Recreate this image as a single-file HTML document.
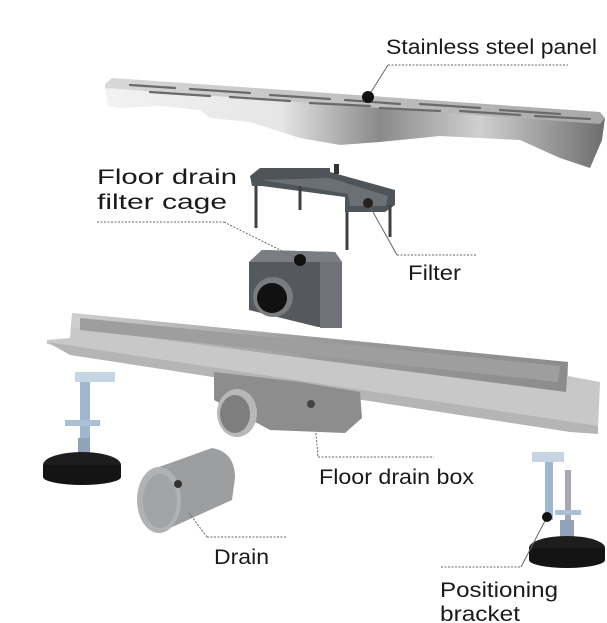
<!DOCTYPE html>
<html><head><meta charset="utf-8"><style>
html,body{margin:0;padding:0;background:#fff;width:607px;height:623px;overflow:hidden}
svg{display:block}
text{font-family:"Liberation Sans",sans-serif;font-size:21px;fill:#1a1a1a}
</style></head><body>
<svg width="607" height="623" viewBox="0 0 607 623" xmlns="http://www.w3.org/2000/svg">
<defs>
<linearGradient id="steel" x1="0" x2="1" y1="0" y2="0">
<stop offset="0" stop-color="#f2f2f2"/><stop offset="0.35" stop-color="#e6e6e6"/><stop offset="0.55" stop-color="#8a8a8a"/><stop offset="0.75" stop-color="#d0d0d0"/><stop offset="1" stop-color="#6d6d6d"/></linearGradient>
<linearGradient id="top" x1="0" x2="1"><stop offset="0" stop-color="#d8d8d8"/><stop offset="1" stop-color="#a8a8a8"/></linearGradient>
<linearGradient id="trough" x1="0" x2="1"><stop offset="0" stop-color="#cfcfcf"/><stop offset="0.5" stop-color="#9a9a9a"/><stop offset="1" stop-color="#8c8c8c"/></linearGradient>
</defs>
<!-- panel -->
<polygon points="105,84 112,78 600,112 605,118 600,125 105,90" fill="url(#top)"/>
<path d="M105,88 L600,124 L605,118 L602,140 L590,168 L560,158 L520,140 L440,136 L380,142 L340,145 L300,138 L250,122 L210,118 L200,110 L160,106 L120,108 L108,106 Z" fill="url(#steel)"/>
<g stroke="#6a6a6a" stroke-width="2.2" stroke-linecap="round">
<line x1="130" y1="85" x2="175" y2="88"/><line x1="190" y1="89" x2="250" y2="93"/><line x1="270" y1="95" x2="330" y2="99"/><line x1="345" y1="100" x2="400" y2="104"/>
<line x1="420" y1="104" x2="480" y2="108"/><line x1="500" y1="110" x2="560" y2="114"/>
<line x1="150" y1="92" x2="210" y2="96"/><line x1="230" y1="97" x2="290" y2="101"/><line x1="310" y1="103" x2="370" y2="106"/><line x1="380" y1="108" x2="440" y2="111"/><line x1="460" y1="111" x2="520" y2="115"/><line x1="535" y1="116" x2="590" y2="119"/>
</g>
<!-- cage -->
<path d="M250,176 L260,168 L330,168 L330,172 L395,190 L395,205 L385,212 L345,212 L345,197 L262,186 L252,186 Z" fill="#4e5459"/>
<path d="M262,180 L330,178 L388,196 L386,206 L350,206 L348,194 Z" fill="#6b7075"/>
<rect x="334" y="164" width="5" height="10" fill="#333"/>
<g stroke="#3d4145" stroke-width="3"><line x1="256" y1="186" x2="256" y2="228"/><line x1="300" y1="186" x2="300" y2="210"/><line x1="347" y1="212" x2="347" y2="250"/><line x1="390" y1="205" x2="390" y2="237"/></g>
<!-- filter box -->
<path d="M249,262 L262,250 L335,252 L342,262 L342,327 L318,327 L249,310 Z" fill="#55595d"/>
<path d="M249,262 L262,250 L335,252 L342,262 Z" fill="#7a7e82"/>
<rect x="320" y="262" width="22" height="66" fill="#6f7378"/>
<circle cx="273" cy="297" r="20" fill="#7a7d80"/><circle cx="272" cy="298" r="15" fill="#111"/>
<!-- trough -->
<polygon points="47,340 70,338 72,313 568,362 568,376 600,382 598,428 47,344" fill="#c8c8c8"/>
<polygon points="72,313 568,362 566,392 72,328" fill="url(#trough)"/>
<polygon points="80,318 560,366 558,382 80,330" fill="#9e9e9e"/>
<polygon points="47,342 598,426 598,434 570,432 70,355" fill="#b5b5b5"/>
<!-- box under trough -->
<path d="M214,372 L300,382 L360,392 L362,418 L345,433 L270,430 L214,400 Z" fill="#8d8d8d"/>
<ellipse cx="237" cy="413" rx="20" ry="24" fill="#b8b8b8"/><ellipse cx="235" cy="414" rx="15" ry="19" fill="#7e7e7e"/>
<circle cx="311" cy="404" r="4" fill="#444"/>
<!-- drain pipe -->
<path d="M159,467 L212,448 Q235,452 235,478 L232,500 L159,533 Z" fill="#9c9ea0"/>
<ellipse cx="159" cy="500" rx="22" ry="33" fill="#b0b2b4"/><ellipse cx="160" cy="501" rx="17" ry="27" fill="#a2a4a6"/>
<circle cx="178" cy="484" r="4" fill="#333"/>
<!-- left bracket -->
<g>
<rect x="80" y="378" width="10" height="60" fill="#9fb8d0"/><rect x="75" y="372" width="40" height="10" fill="#c5d5e4"/>
<rect x="65" y="420" width="35" height="6" fill="#aac0d6"/>
<rect x="78" y="438" width="12" height="20" fill="#8fa4b8"/>
<ellipse cx="82" cy="465" rx="39" ry="13" fill="#1d1d1d"/><rect x="43" y="465" width="78" height="12" fill="#141414"/><ellipse cx="82" cy="477" rx="39" ry="8" fill="#141414"/>
</g>
<!-- right bracket -->
<g>
<rect x="545" y="460" width="8" height="60" fill="#9fb8d0"/><rect x="532" y="452" width="32" height="10" fill="#c5d5e4"/>
<rect x="565" y="470" width="6" height="60" fill="#a5a9ae"/>
<rect x="555" y="510" width="26" height="5" fill="#aac0d6"/>
<rect x="560" y="520" width="14" height="25" fill="#8fa4b8"/>
<ellipse cx="567" cy="548" rx="38" ry="12" fill="#1d1d1d"/><rect x="529" y="548" width="76" height="12" fill="#141414"/><ellipse cx="567" cy="560" rx="38" ry="8" fill="#141414"/>
</g>
<!-- leaders -->
<g stroke="#666" stroke-width="1" fill="none">
<line x1="388" y1="65" x2="568" y2="65" stroke-dasharray="2,1.5"/>
<line x1="388" y1="65" x2="368" y2="97"/>
<line x1="97" y1="222" x2="224" y2="222" stroke-dasharray="2,1.5"/>
<line x1="224" y1="222" x2="300" y2="260" stroke-dasharray="2,1.5"/>
<line x1="368" y1="203" x2="397" y2="255"/>
<line x1="397" y1="255" x2="476" y2="255" stroke-dasharray="2,1.5"/>
<line x1="316" y1="433" x2="318" y2="457" stroke-dasharray="2,1.5"/>
<line x1="318" y1="457" x2="434" y2="457" stroke-dasharray="2,1.5"/>
<line x1="189" y1="513" x2="207" y2="537" stroke-dasharray="2,1.5"/>
<line x1="207" y1="537" x2="286" y2="537" stroke-dasharray="2,1.5"/>
<line x1="441" y1="567" x2="521" y2="567" stroke-dasharray="2,1.5"/>
<line x1="521" y1="567" x2="547" y2="517"/>
</g>
<circle cx="368" cy="97" r="6" fill="#111"/>
<circle cx="300" cy="260" r="6" fill="#111"/>
<circle cx="368" cy="203" r="5" fill="#222"/>
<circle cx="547" cy="517" r="5" fill="#111"/>
<!-- labels -->
<g>
<text x="386" y="54" textLength="211" lengthAdjust="spacingAndGlyphs">Stainless steel panel</text>
<text x="97" y="184" textLength="140" lengthAdjust="spacingAndGlyphs">Floor drain</text>
<text x="97" y="209" textLength="130" lengthAdjust="spacingAndGlyphs">filter cage</text>
<text x="408" y="280" textLength="53" lengthAdjust="spacingAndGlyphs">Filter</text>
<text x="319" y="484" textLength="155" lengthAdjust="spacingAndGlyphs">Floor drain box</text>
<text x="214" y="564" textLength="55" lengthAdjust="spacingAndGlyphs">Drain</text>
<text x="440" y="597" textLength="118" lengthAdjust="spacingAndGlyphs">Positioning</text>
<text x="440" y="621" textLength="80" lengthAdjust="spacingAndGlyphs">bracket</text>
</g>
</svg>
</body></html>
